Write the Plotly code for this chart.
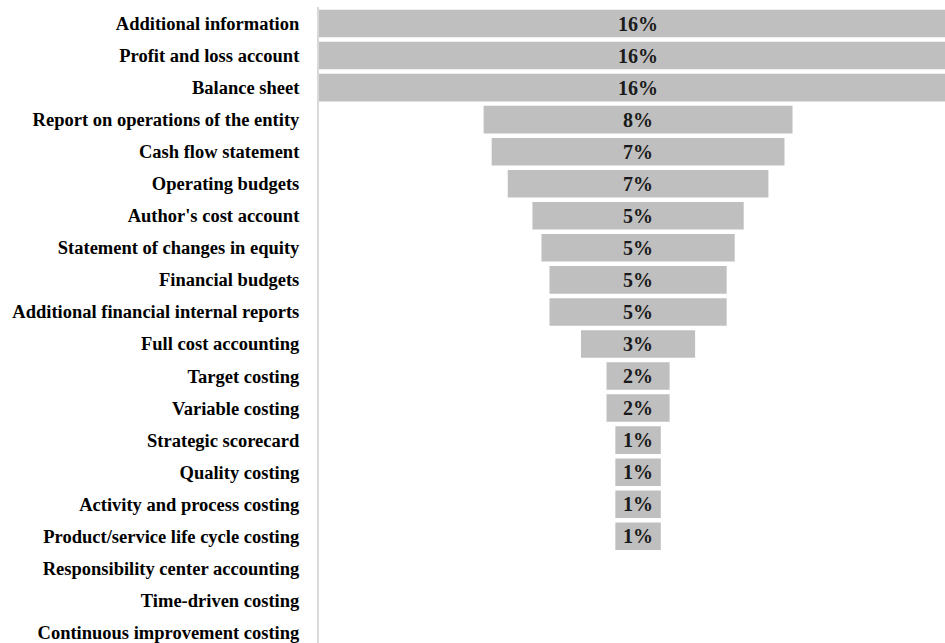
import plotly.graph_objects as go

categories = [
    "Additional information",
    "Profit and loss account",
    "Balance sheet",
    "Report on operations of the entity",
    "Cash flow statement",
    "Operating budgets",
    "Author's cost account",
    "Statement of changes in equity",
    "Financial budgets",
    "Additional financial internal reports",
    "Full cost accounting",
    "Target costing",
    "Variable costing",
    "Strategic scorecard",
    "Quality costing",
    "Activity and process costing",
    "Product/service life cycle costing",
    "Responsibility center accounting",
    "Time-driven costing",
    "Continuous improvement costing",
]
values = [16.3, 16.3, 16.3, 7.88, 7.47, 6.65, 5.39, 4.93, 4.52, 4.52,
          2.91, 1.61, 1.61, 1.16, 1.16, 1.16, 1.16, 0, 0, 0]
labels = [f"{round(v)}%" if v > 0 else "" for v in values]

FONT = "Liberation Serif"

fig = go.Figure(go.Funnel(
    y=categories,
    x=values,
    text=labels,
    textinfo="text",
    textposition="inside",
    insidetextanchor="middle",
    constraintext="none",
    textfont=dict(family=FONT, size=20, color="#1a1a1a", weight="bold"),
    marker=dict(color="#bfbfbf", line=dict(width=0)),
    connector=dict(visible=False),
    hoverinfo="skip",
))

fig.update_layout(
    width=945,
    height=643,
    margin=dict(l=319, r=0, t=7, b=0),
    paper_bgcolor="white",
    plot_bgcolor="white",
    funnelgap=0.14,
    showlegend=False,
    font=dict(family=FONT, size=18.5, color="#000000"),
)
fig.update_xaxes(visible=False, range=[-8.14, 7.83])
fig.update_yaxes(
    range=[19.33, -0.515],
    showline=True,
    linecolor="#d9d9d9",
    linewidth=2,
    showgrid=False,
    zeroline=False,
    ticks="",
    ticklabelstandoff=14,
    tickfont=dict(family=FONT, size=18.5, color="#000000", weight="bold"),
    automargin=False,
)

fig.write_html("out.html")
